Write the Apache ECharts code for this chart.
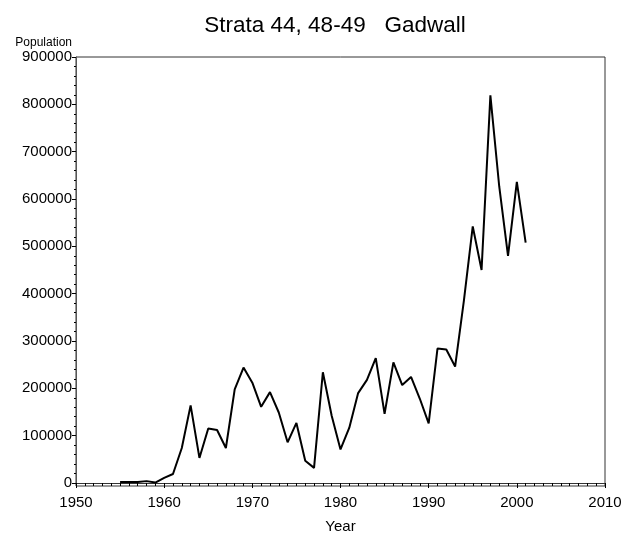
<!DOCTYPE html>
<html>
<head>
<meta charset="utf-8">
<script src="https://cdn.jsdelivr.net/npm/echarts@6/dist/echarts.min.js"></script>
<style>html,body{margin:0;padding:0;background:#fff;}#c{width:636px;height:540px;}</style>
</head>
<body>
<div id="c"></div>
<script>
var years = [1955,1956,1957,1958,1959,1960,1961,1962,1963,1964,1965,1966,1967,1968,1969,1970,1971,1972,1973,1974,1975,1976,1977,1978,1979,1980,1981,1982,1983,1984,1985,1986,1987,1988,1989,1990,1991,1992,1993,1994,1995,1996,1997,1998,1999,2000,2001];
var population = [2000,2000,2000,4000,1000,11000,19000,74000,164000,53000,115000,112000,74000,198000,244000,212000,161000,192000,149000,86000,127000,47000,32000,234000,142000,71000,117000,190000,218000,264000,146000,255000,207000,224000,178000,126000,284000,282000,246000,386000,542000,450000,819000,627000,480000,636000,508000];
var yTicks = [0,100000,200000,300000,400000,500000,600000,700000,800000,900000];
var xTicks = [1950,1960,1970,1980,1990,2000,2010];

var yMinor = [];
for (var i = 0; i < yTicks.length - 1; i++) {
  for (var k = 1; k < 5; k++) yMinor.push(yTicks[i] + k * (yTicks[i+1] - yTicks[i]) / 5);
}
var data = years.map(function (y, i) { return [y, population[i]]; });
var font = 'Liberation Sans, Arial, sans-serif';
function plain(v) { return String(v); }

var chart = echarts.init(document.getElementById('c'), null, {renderer: 'canvas'});
chart.setOption({
  animation: false,
  backgroundColor: '#fff',
  title: {
    text: 'Strata 44, 48-49   Gadwall',
    left: 330, top: 9, textAlign: 'center',
    textStyle: {fontFamily: font, fontSize: 22.5, fontWeight: 'normal', color: '#000'}
  },
  grid: {left: 76, right: 31, top: 57, bottom: 54, show: true, borderColor: '#333', borderWidth: 1, backgroundColor: 'transparent'},
  xAxis: {
    type: 'value', min: xTicks[0], max: xTicks[xTicks.length-1], interval: 10,
    name: 'Year', nameLocation: 'middle', nameGap: 33,
    nameTextStyle: {fontFamily: font, fontSize: 15, color: '#000'},
    axisLine: {show: true, lineStyle: {color: '#333', width: 1}},
    axisTick: {show: true, inside: false, length: 5, lineStyle: {color: '#000'}},
    minorTick: {show: true, splitNumber: 10, length: 3, lineStyle: {color: '#000'}},
    axisLabel: {fontFamily: font, fontSize: 15, color: '#000', margin: 9, formatter: plain},
    splitLine: {show: false}
  },
  yAxis: [{
    type: 'value', min: -6300, max: 900000,
    name: 'Population', nameLocation: 'end', nameGap: 8,
    nameTextStyle: {fontFamily: font, fontSize: 12, color: '#000', align: 'right', padding: [0, 4, 0, 0]},
    axisLine: {show: true, lineStyle: {color: '#555', width: 1}},
    axisTick: {show: true, inside: false, length: 4, customValues: yTicks, lineStyle: {color: '#000'}},
    axisLabel: {fontFamily: font, fontSize: 15, color: '#000', margin: 4, customValues: yTicks, formatter: plain},
    splitLine: {show: false}
  }, {
    type: 'value', min: -6300, max: 900000, position: 'left',
    axisLine: {show: false},
    axisTick: {show: true, inside: false, length: 2, customValues: yMinor, lineStyle: {color: '#000'}},
    axisLabel: {show: false},
    splitLine: {show: false}
  }],
  series: [{
    type: 'line', data: data, yAxisIndex: 0, showSymbol: false,
    lineStyle: {color: '#000', width: 2}, itemStyle: {color: '#000'}
  }]
});
</script>
</body>
</html>
